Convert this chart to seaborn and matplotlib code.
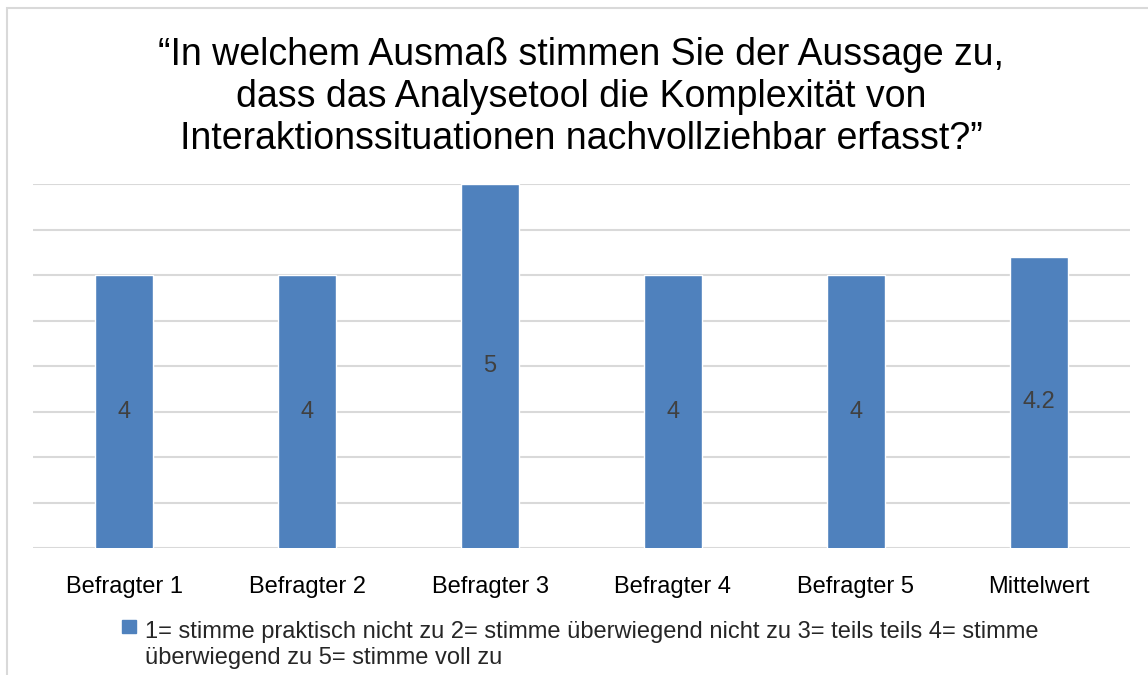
import seaborn as sns
import pandas as pd
from matplotlib import pyplot as plt
from matplotlib.patches import Rectangle, Patch
from matplotlib.legend_handler import HandlerPatch

# data
befragte = ['Befragter 1', 'Befragter 2', 'Befragter 3', 'Befragter 4', 'Befragter 5', 'Mittelwert']
werte = [4, 4, 5, 4, 4, 4.2]
legend_label = ('1= stimme praktisch nicht zu 2= stimme überwiegend nicht zu 3= teils teils 4= stimme\n'
                'überwiegend zu 5= stimme voll zu')
titel = ('\u201cIn welchem Ausmaß stimmen Sie der Aussage zu,\n'
         'dass das Analysetool die Komplexität von\n'
         'Interaktionssituationen nachvollziehbar erfasst?\u201d')

df = pd.DataFrame({'Befragter': befragte, 'Wert': werte})

sns.set_style('white')
plt.rcParams['font.family'] = ['Liberation Sans', 'DejaVu Sans']

W, H = 1148, 675
fig = plt.figure(figsize=(W / 100, H / 100), dpi=100)
ax = fig.add_axes([33 / W, 1 - 548 / H, (1130 - 33) / W, (548 - 184) / H])

blue = '#4f81bd'
grid = '#d9d9d9'
fs = 17
sns.barplot(data=df, x='Befragter', y='Wert', color=blue, width=0.317, saturation=1, ax=ax, zorder=3)

ax.set_ylim(1, 5)
ax.set_xlim(-0.5, len(befragte) - 0.5)
ax.set_yticks([1 + 0.5 * i for i in range(9)])
ax.set_yticklabels([])
ax.tick_params(axis='y', length=0)
ax.tick_params(axis='x', length=0, labelsize=fs, pad=20, labelcolor='#000000')
ax.grid(axis='y', color=grid, linewidth=1.5, zorder=0)
ax.set_xlabel('')
ax.set_ylabel('')
for s in ['top', 'right', 'left', 'bottom']:
    ax.spines[s].set_visible(False)

for i, v in enumerate(werte):
    ax.text(i, (1 + v) / 2, f'{v:g}', ha='center', va='center', fontsize=fs, color='#404040', zorder=4)

fig.text(581.5 / W, 1 - 97 / H, titel, ha='center', va='center', fontsize=27,
         linespacing=1.2, color='#000000')


# legend square sits next to the first line of the two-line label
def top_square(legend, orig_handle, xdescent, ydescent, width, height, fontsize):
    sq = 13.5 * 72 / 100
    return Rectangle((-xdescent, -ydescent + height - sq + 5.5), sq, sq)


leg = fig.legend(handles=[Patch(facecolor=blue, edgecolor=blue)], labels=[legend_label],
                 loc='upper left', bbox_to_anchor=(122 / W, 1 - 621 / H), frameon=False,
                 fontsize=fs, handlelength=9.7 / fs, handleheight=2.1, handletextpad=0.4,
                 borderpad=0, borderaxespad=0,
                 handler_map={Patch: HandlerPatch(patch_func=top_square)})
for t in leg.get_texts():
    t.set_linespacing(1.25)

# outer chart frame (cropped at the right and bottom)
fig.add_artist(Rectangle((7 / W, -0.1), 1.2, 1 - 8 / H + 0.1, transform=fig.transFigure,
                         fill=False, edgecolor=grid, linewidth=1.5))

fig.savefig('out.png', dpi=100)
